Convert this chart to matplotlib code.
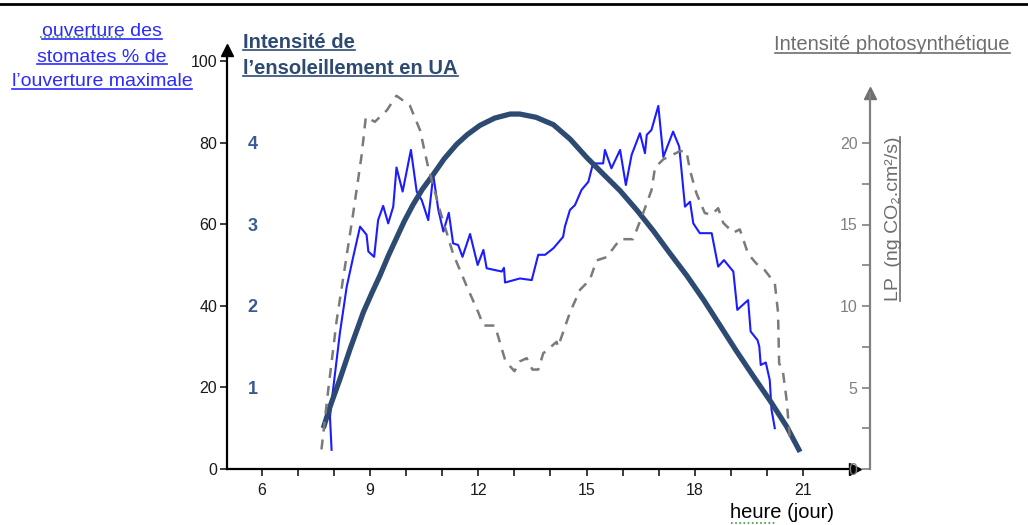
import matplotlib
matplotlib.use("Agg")
import matplotlib.pyplot as plt
from matplotlib.lines import Line2D

plt.rcParams['font.family'] = ['Liberation Sans', 'DejaVu Sans']

# ---------------- data ----------------
sun_hours = [7.70, 7.90, 8.16, 8.45, 8.81, 9.05, 9.27, 9.50, 9.73, 9.95,
             10.19, 10.45, 10.75, 11.05, 11.40, 11.70, 12.04, 12.45, 12.88, 13.15,
             13.60, 14.08, 14.55, 15.00, 15.45, 15.93, 16.40, 16.85, 17.30, 17.78,
             18.25, 18.70, 19.15, 19.62, 20.10, 20.55, 20.92]
sun_ua = [0.50, 0.78, 1.10, 1.48, 1.92, 2.16, 2.37, 2.61, 2.83, 3.04,
          3.24, 3.43, 3.61, 3.80, 3.98, 4.10, 4.21, 4.30, 4.35, 4.35,
          4.31, 4.22, 4.04, 3.82, 3.62, 3.41, 3.17, 2.92, 2.65, 2.37,
          2.07, 1.76, 1.45, 1.14, 0.83, 0.52, 0.21]

stom_hours = [7.93, 7.885, 7.96, 8.16, 8.35, 8.53, 8.72, 8.90, 8.95, 9.11,
              9.22, 9.36, 9.50, 9.64, 9.73, 9.90, 10.13, 10.29, 10.43, 10.61,
              10.75, 10.89, 11.03, 11.18, 11.30, 11.44, 11.56, 11.77, 11.98, 12.14,
              12.23, 12.65, 12.71, 12.74, 13.15, 13.48, 13.66, 13.85, 14.08, 14.35,
              14.40, 14.54, 14.68, 14.86, 15.05, 15.18, 15.46, 15.51, 15.69, 15.93,
              16.09, 16.25, 16.48, 16.62, 16.67, 16.80, 16.99, 17.13, 17.40, 17.57,
              17.73, 17.87, 17.96, 18.14, 18.47, 18.65, 18.81, 19.07, 19.18, 19.48,
              19.55, 19.74, 19.79, 19.83, 19.97, 20.08, 20.13, 20.22]
stom_pct = [4.7, 12.8, 18.6, 33.3, 44.7, 52.0, 59.4, 57.4, 53.3, 52.0,
            61.0, 64.5, 60.2, 64.3, 73.9, 68.0, 78.2, 68.0, 65.9, 61.0,
            72.1, 63.5, 58.2, 62.8, 55.3, 54.9, 52.0, 57.6, 50.0, 53.7,
            49.2, 48.4, 49.3, 45.7, 46.7, 46.3, 52.5, 52.5, 54.1, 56.9,
            59.4, 63.5, 64.7, 68.4, 70.4, 74.9, 74.9, 78.2, 73.7, 78.2,
            69.6, 77.0, 82.3, 77.4, 81.9, 83.1, 89.0, 76.5, 82.7, 79.0,
            64.3, 65.5, 60.2, 57.8, 57.8, 49.6, 51.2, 48.4, 39.0, 41.4,
            33.7, 31.6, 30.0, 25.5, 26.1, 21.8, 14.5, 10.0]

photo_hours = [7.65, 7.84, 8.07, 8.30, 8.53, 8.76, 8.88, 9.13, 9.46, 9.73,
               10.10, 10.38, 10.61, 10.93, 11.30, 11.68, 12.00, 12.14, 12.46, 12.74,
               12.88, 13.00, 13.15, 13.34, 13.50, 13.66, 13.80, 14.17, 14.21, 14.54,
               14.82, 15.09, 15.28, 15.56, 15.93, 16.29, 16.57, 16.80, 16.90, 17.13,
               17.59, 17.77, 17.87, 18.05, 18.28, 18.47, 18.65, 18.79, 19.07, 19.25,
               19.48, 19.71, 19.94, 20.22, 20.31, 20.34, 20.45, 20.55, 20.64]
photo_lp = [1.2, 4.9, 9.1, 12.4, 15.7, 19.2, 21.6, 21.3, 22.0, 22.9,
            22.3, 20.8, 18.5, 15.9, 13.2, 11.2, 9.6, 8.8, 8.8, 6.7,
            6.3, 6.0, 6.6, 6.8, 6.1, 6.1, 7.1, 7.8, 7.5, 9.6,
            11.0, 11.6, 12.8, 13.0, 14.1, 14.1, 15.7, 17.1, 18.5, 19.0,
            19.5, 19.5, 18.3, 16.9, 15.7, 15.6, 16.0, 15.1, 14.5, 14.7,
            13.2, 12.6, 12.2, 11.4, 9.6, 6.5, 5.9, 4.2, 1.8]

x_major = [6, 9, 12, 15, 18, 21]
x_minor = list(range(6, 22))
y_left_ticks = [0, 20, 40, 60, 80, 100]
sun_ticks = [1, 2, 3, 4]
lp_major = [0, 5, 10, 15, 20]
lp_minor = [2.5, 7.5, 12.5, 17.5]

title_left = ["ouverture des", "stomates % de", "l\u2019ouverture maximale"]
title_sun = ["Intensit\u00e9 de", "l\u2019ensoleillement en UA"]
title_photo = "Intensit\u00e9 photosynth\u00e9tique"
label_lp = "LP  (ng CO\u2082.cm\u00b2/s)"
label_x = "heure (jour)"

# ---------------- layout ----------------
W, H = 1028, 525
fig = plt.figure(figsize=(W / 100, H / 100), dpi=100)

def fx(px):
    return px / W

def fy(py):
    return 1 - py / H

ax_l, ax_r, ax_b, ax_t = 227, 870, 469, 50
ax = fig.add_axes([fx(ax_l), fy(ax_b), fx(ax_r - ax_l), (ax_b - ax_t) / H])
ax.set_xlim(5.03, 22.86)
left_top = (ax_b - ax_t) / 4.08
ax.set_ylim(0, left_top)
for s in ['top', 'right']:
    ax.spines[s].set_visible(False)
ax.spines['left'].set_linewidth(1.6)
ax.spines['bottom'].set_linewidth(1.6)
ax.spines['bottom'].set_bounds(5.03, 22.45)
ax.set_xticks(x_major)
ax.set_xticks(x_minor, minor=True)
ax.set_xticklabels([str(v) for v in x_major])
ax.set_yticks(y_left_ticks)
ax.tick_params(axis='both', which='both', direction='out', length=5, width=1.2,
               labelsize=11.5, colors='#1a1a1a', pad=2)
ax.tick_params(axis='x', pad=5)
ax.patch.set_alpha(0)
# arrows
ax.plot(0, 1, marker='^', color='black', markersize=8, transform=ax.transAxes, clip_on=False)
ax.plot(22.45, 0, marker='>', color='black', markersize=8,
        transform=ax.get_xaxis_transform(), clip_on=False)

# stomata line
ax.plot(stom_hours, stom_pct, color='#1c1cff', lw=1.5, zorder=3)

# sun intensity on twin axis
ax_s = ax.twinx()
ax_s.set_ylim(0, left_top / 20)
for s in ax_s.spines.values():
    s.set_visible(False)
ax_s.yaxis.set_ticks_position('left')
ax_s.yaxis.set_label_position('left')
ax_s.set_yticks(sun_ticks)
ax_s.tick_params(axis='y', length=0, pad=-22, labelsize=13, labelcolor='#3a5a94')
for lab in ax_s.get_yticklabels():
    lab.set_fontweight('bold')
ax_s.plot(sun_hours, sun_ua, color='#2d4a72', lw=3.8, solid_capstyle='butt',
          solid_joinstyle='round', zorder=4)

# photosynthesis on twin axis (scale drawn separately)
ax_p = ax.twinx()
ax_p.set_ylim(0, (ax_b - ax_t) / 16.3)
for s in ax_p.spines.values():
    s.set_visible(False)
ax_p.set_yticks([])
ax_p.plot(photo_hours, photo_lp, color='#7a7a7a', lw=1.8, dashes=(4, 3.2), zorder=2)

# right grey scale
r_x, r_top = 870, 93
ax_g = fig.add_axes([fx(r_x), fy(ax_b), 0.0001, (ax_b - r_top) / H])
ax_g.set_ylim(0, (ax_b - r_top) / 16.3)
ax_g.patch.set_alpha(0)
for s in ['top', 'right', 'bottom']:
    ax_g.spines[s].set_visible(False)
ax_g.spines['left'].set_color('#808080')
ax_g.spines['left'].set_linewidth(1.6)
ax_g.set_xticks([])
ax_g.set_yticks(lp_major)
ax_g.set_yticks(lp_minor, minor=True)
ax_g.tick_params(axis='y', which='both', direction='out', length=6, width=1.2,
                 color='#808080', labelcolor='#808080', labelsize=11.5, pad=3)
ax_g.plot(0, 1, marker='^', color='#707070', markersize=9, transform=ax_g.transAxes, clip_on=False)

# ---------------- texts ----------------
texts = []
c_blue = '#2b2bff'
for i, line in enumerate(title_left):
    t = fig.text(fx(102), fy(32 + i * 25), line, ha='center', va='center',
                 fontsize=14, color=c_blue)
    texts.append((t, c_blue, 'h'))
c_sun = '#2d4a72'
for i, line in enumerate(title_sun):
    t = fig.text(fx(243), fy(42 + i * 26), line, ha='left', va='center',
                 fontsize=14.5, color=c_sun, fontweight='bold')
    texts.append((t, c_sun, 'h'))
c_grey = '#6e6e6e'
t = fig.text(fx(1010), fy(45), title_photo, ha='right', va='center',
             fontsize=14.5, color=c_grey)
texts.append((t, c_grey, 'h'))
t = fig.text(fx(893), fy(219), label_lp, ha='center', va='center', rotation=90,
             fontsize=14, color=c_grey)
texts.append((t, c_grey, 'v'))
fig.text(fx(782), fy(512), label_x, ha='center', va='center', fontsize=14.5, color='black')

# top border line
fig.add_artist(Line2D([0, 1], [fy(4), fy(4)], color='black', lw=2, transform=fig.transFigure))

# underlines
fig.canvas.draw()
renderer = fig.canvas.get_renderer()
first_underline_y = None
for t, c, o in texts:
    bb = t.get_window_extent(renderer)
    if o == 'h':
        y = bb.y0 + 1.5
        if first_underline_y is None:
            first_underline_y = y
        fig.add_artist(Line2D([bb.x0 / W, bb.x1 / W], [y / H, y / H], color=c, lw=1.2,
                              transform=fig.transFigure))
    else:
        x = bb.x1 - 1.5
        fig.add_artist(Line2D([x / W, x / W], [bb.y0 / H, bb.y1 / H], color=c, lw=1.2,
                              transform=fig.transFigure))

# spell-check squiggles
sq_y = (first_underline_y + 2) / H
fig.add_artist(Line2D([fx(40), fx(122)], [sq_y, sq_y], color='#3a9a3a', lw=1.2,
                      ls=(0, (1, 1.5)), transform=fig.transFigure))
fig.add_artist(Line2D([fx(731), fx(775)], [fy(523), fy(523)], color='#3a9a3a', lw=1.2,
                      ls=(0, (1, 1.5)), transform=fig.transFigure))

fig.savefig('out.png', dpi=100, facecolor='white')
